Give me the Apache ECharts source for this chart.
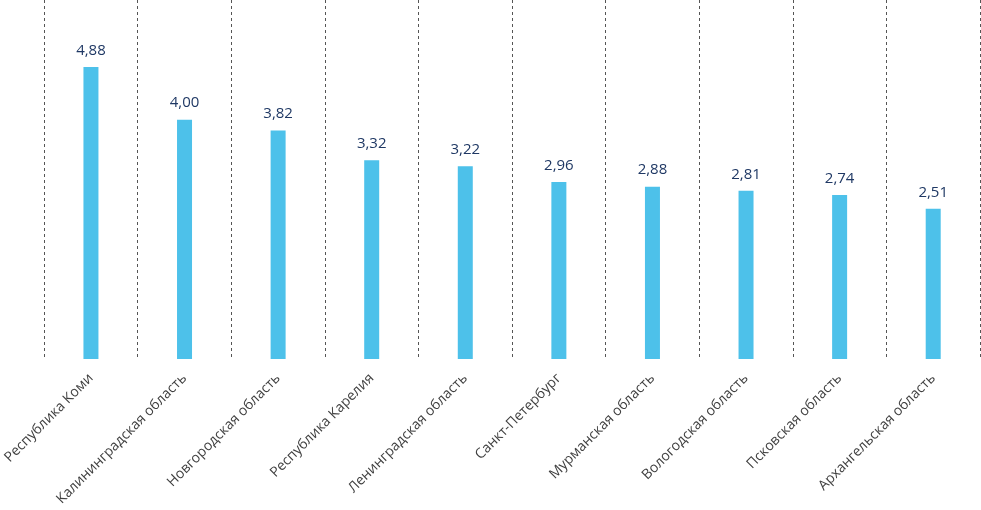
<!DOCTYPE html>
<html>
<head>
<meta charset="utf-8">
<script src="https://cdn.jsdelivr.net/npm/echarts@6/dist/echarts.min.js"></script>
<style>html,body{margin:0;padding:0;background:#fff;}#c{width:981px;height:510px;}</style>
</head>
<body>
<div id="c"></div>
<script>
const categories = ["Республика Коми","Калининградская область","Новгородская область","Республика Карелия","Ленинградская область","Санкт-Петербург","Мурманская область","Вологодская область","Псковская область","Архангельская область"];
const values = [4.88, 4.00, 3.82, 3.32, 3.22, 2.96, 2.88, 2.81, 2.74, 2.51];

const chart = echarts.init(document.getElementById('c'));
chart.setOption({
  animation: false,
  grid: {left: 43, right: 1, top: 0, bottom: 151, containLabel: false},
  xAxis: {
    type: 'category',
    data: categories,
    boundaryGap: true,
    axisLine: {show: false},
    axisTick: {show: false},
    axisLabel: {rotate: 45, margin: 17, fontSize: 14, color: '#404040', fontFamily: 'Open Sans', interval: 0},
    splitLine: {show: true, interval: 0, lineStyle: {type: [3, 3], color: '#555', width: 1}}
  },
  yAxis: {
    type: 'value', min: 0, max: 6, show: false,
    splitLine: {show: false}
  },
  series: [{
    type: 'bar',
    data: values,
    barWidth: 15,
    itemStyle: {color: '#4DC1EA'},
    label: {
      show: true, position: 'top', distance: 9,
      fontSize: 15, color: '#1F3864', fontFamily: 'Open Sans',
      formatter: p => p.value.toFixed(2).replace('.', ',')
    }
  }]
});
</script>
</body>
</html>
